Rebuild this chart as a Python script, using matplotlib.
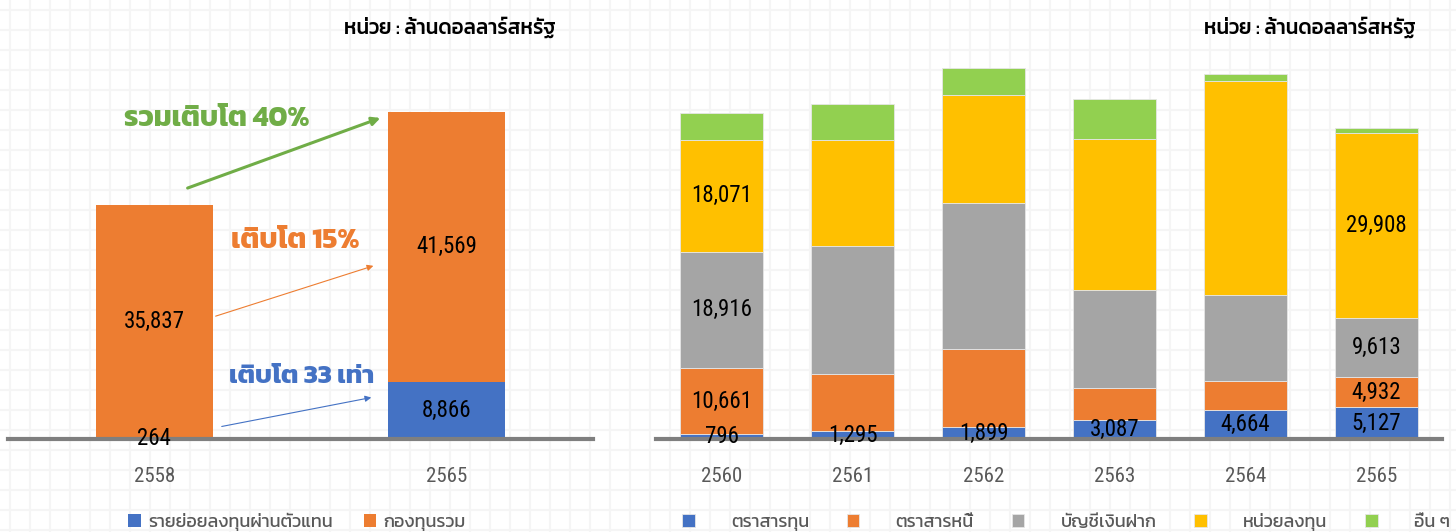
import numpy as np
import matplotlib
matplotlib.use("Agg")
import matplotlib.pyplot as plt
from matplotlib.patches import FancyArrowPatch

# left panel data
years_left = ['2558', '2565']
retail = [264, 8866]
mutual = [35837, 41569]
legend_left = ['รายย่อยลงทุนผ่านตัวแทน', 'กองทุนรวม']

# right panel data (labelled values, others estimated)
years_right = ['2560', '2561', '2562', '2563', '2564', '2565']
equity = [796, 1295, 1899, 3087, 4664, 5127]
debt = [10661, 9240, 12750, 5170, 4730, 4932]
deposit = [18916, 20770, 23520, 15890, 14010, 9613]
unit_trust = [18071, 17150, 17480, 24510, 34640, 29908]
other = [4400, 5880, 4450, 6430, 1040, 830]
legend_right = ['ตราสารทุน', 'ตราสารหนี้', 'บัญชีเงินฝาก', 'หน่วยลงทุน', 'อื่น ๆ']

unit_text = 'หน่วย : ล้านดอลลาร์สหรัฐ'

BLUE = '#4472c4'
ORANGE = '#ed7d31'
GRAY = '#a5a5a5'
YELLOW = '#ffc000'
GREEN = '#92d050'

THAI = ['Kanit', 'DejaVu Sans']
NUM = ['Roboto Condensed', 'DejaVu Sans']
plt.rcParams['font.family'] = THAI

W, H = 1456, 532
fig = plt.figure(figsize=(W / 100, H / 100), dpi=100)


def fx(px):
    return px / W


def fy(py):
    return 1 - py / H


# faint graph-paper background
bg = fig.add_axes([0, 0, 1, 1], zorder=-10)
bg.set_xlim(0, W)
bg.set_ylim(H, 0)
for v in np.arange(10, W, 20):
    bg.axvline(v, color='#f5f5f5', lw=1.5)
for v in np.arange(10, H, 20):
    bg.axhline(v, color='#f5f5f5', lw=1.5)
bg.axis('off')

base_y = 439
top_y = 59
axL = fig.add_axes([fx(8), fy(base_y), fx(585), (base_y - top_y) / H])
axR = fig.add_axes([fx(656), fy(base_y), fx(786), (base_y - top_y) / H])

# left panel
xl = np.arange(len(years_left))
b1 = axL.bar(xl, retail, 0.4, color=BLUE, label=legend_left[0])
b2 = axL.bar(xl, mutual, 0.4, bottom=retail, color=ORANGE, label=legend_left[1])
axL.set_xlim(-0.5, 1.5)
axL.set_ylim(0, (base_y - top_y) * 154.3)
for bars, vals, bots in [(b1, retail, [0, 0]), (b2, mutual, retail)]:
    for r, v, b in zip(bars, vals, bots):
        axL.text(r.get_x() + r.get_width() / 2, b + v / 2, f'{v:,}',
                 ha='center', va='center', fontsize=16.5, color='black',
                 family=NUM)

# right panel
xr = np.arange(len(years_right))
series = [equity, debt, deposit, unit_trust, other]
colors = [BLUE, ORANGE, GRAY, YELLOW, GREEN]
bottom = np.zeros(len(years_right))
for i, (vals, c, lab) in enumerate(zip(series, colors, legend_right)):
    bars = axR.bar(xr, vals, 0.64, bottom=bottom, color=c, label=lab,
                   edgecolor='#e6e6e6', linewidth=0.6)
    for j, (r, v) in enumerate(zip(bars, vals)):
        if i == 0 or (i < 4 and j in (0, len(vals) - 1)):
            axR.text(r.get_x() + r.get_width() / 2, bottom[j] + v / 2, f'{v:,}',
                     ha='center', va='center', fontsize=16.5, color='black',
                     family=NUM)
    bottom += np.array(vals)
axR.set_xlim(-0.5, 5.5)
axR.set_ylim(0, (base_y - top_y) * 162)

for ax, labels in [(axL, years_left), (axR, years_right)]:
    ax.set_xticks(range(len(labels)))
    ax.set_xticklabels(labels, fontsize=15, color='#595959', family=NUM)
    ax.tick_params(axis='x', length=0, pad=20)
    ax.set_yticks([])
    for s in ax.spines.values():
        s.set_visible(False)
    ax.patch.set_alpha(0)
    ax.axhline(0, color='#7f7f7f', lw=3, zorder=1, clip_on=False)

# unit captions
for right_px in (556, 1416):
    fig.text(fx(right_px), fy(27), unit_text, ha='right', va='center',
             fontsize=14.8, fontweight='medium', color='black')

# growth annotations
fig.text(fx(124), fy(119), 'รวมเติบโต 40%', ha='left', va='center', fontsize=20.5,
         fontweight='bold', color='#70ad47')
fig.text(fx(231), fy(241), 'เติบโต 15%', ha='left', va='center', fontsize=20.5,
         fontweight='bold', color=ORANGE)
fig.text(fx(229), fy(377), 'เติบโต 33 เท่า', ha='left', va='center', fontsize=19,
         fontweight='bold', color=BLUE)
arrows = [((185, 189), (383, 117), '#70ad47', 2.2, 12),
          ((213, 317), (376, 265), ORANGE, 0.8, 9),
          ((219, 427), (374, 397), BLUE, 0.8, 9)]
for (x0, y0), (x1, y1), c, lw, ms in arrows:
    fig.patches.append(FancyArrowPatch(
        (fx(x0), fy(y0)), (fx(x1), fy(y1)), transform=fig.transFigure,
        arrowstyle='-|>', mutation_scale=ms, color=c, lw=lw))

# legends
axL.legend(loc='center', bbox_to_anchor=(fx(297), fy(522)),
           bbox_transform=fig.transFigure, ncol=2, frameon=False, fontsize=13,
           labelcolor='#595959', handlelength=0.7, handleheight=0.7,
           handletextpad=0.4, columnspacing=1.7)
axR.legend(loc='center', bbox_to_anchor=(fx(1066), fy(522)),
           bbox_transform=fig.transFigure, ncol=5, frameon=False, fontsize=13,
           labelcolor='#595959', handlelength=0.7, handleheight=0.7,
           handletextpad=2.0, columnspacing=2.1)

fig.savefig('out.png', dpi=100)
